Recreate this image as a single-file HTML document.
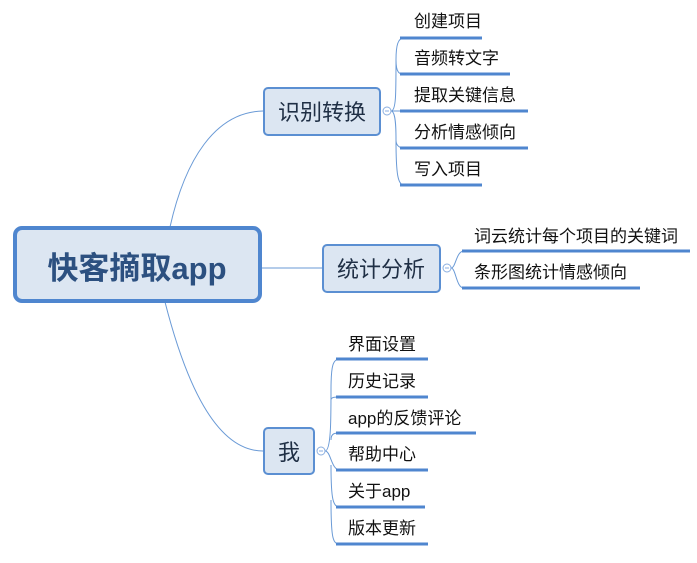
<!DOCTYPE html>
<html><head><meta charset="utf-8"><style>
body{margin:0;background:#fff;}
svg text{font-family:"Liberation Sans","Noto Sans CJK SC",sans-serif;}
</style></head><body>
<svg width="697" height="558" xmlns="http://www.w3.org/2000/svg">
<g fill="none" stroke="#6a9ad6" stroke-width="1">
<path d="M170 227 C185 160 215 112 263 111"/>
<path d="M262 268 L323 268"/>
<path d="M165 302 C185 380 215 451 263 451"/>
<path d="M391 111 C396 111 396 95 396 60 C396 45 398 38 404 38"/>
<path d="M396 60 C396 74 400 74 404 74"/>
<path d="M391 111 L404 111"/>
<path d="M391 111 C396 111 396 130 396 140 C396 146 400 148 404 148"/>
<path d="M396 140 C396 175 398 185 404 185"/>
<path d="M451 268 C456 268 456 251 464 251"/>
<path d="M451 268 C456 268 456 288 464 288"/>
<path d="M325 451 C331 451 331 420 331 390 C331 365 333 359 340 359"/>
<path d="M331 400 C331 397 335 397 340 397"/>
<path d="M331 440 C331 433 335 433 340 433"/>
<path d="M325 451 C331 451 331 470 340 470"/>
<path d="M331 465 C331 500 333 507 340 507"/>
<path d="M331 500 C331 540 333 544 340 544"/>
</g>
<g stroke="#4f86cf" stroke-width="3">
<line x1="400" y1="38" x2="482" y2="38"/>
<line x1="400" y1="74" x2="510" y2="74"/>
<line x1="400" y1="111" x2="528" y2="111"/>
<line x1="400" y1="148" x2="528" y2="148"/>
<line x1="400" y1="185" x2="482" y2="185"/>
<line x1="462" y1="251" x2="690" y2="251"/>
<line x1="462" y1="288" x2="640" y2="288"/>
<line x1="336" y1="359" x2="428" y2="359"/>
<line x1="336" y1="397" x2="428" y2="397"/>
<line x1="336" y1="433" x2="476" y2="433"/>
<line x1="336" y1="470" x2="428" y2="470"/>
<line x1="336" y1="507" x2="425" y2="507"/>
<line x1="336" y1="544" x2="428" y2="544"/>
</g>
<rect x="15" y="228" width="245" height="73" rx="7" fill="#dce6f2" stroke="#4f86cf" stroke-width="4"/>
<text x="137" y="279" text-anchor="middle" font-size="31" font-weight="bold" fill="#2c5080">快客摘取app</text>
<rect x="264" y="88" width="116" height="47" rx="4" fill="#dce6f2" stroke="#5b8fd2" stroke-width="2"/>
<text x="322" y="120" text-anchor="middle" font-size="22" fill="#1f2f45">识别转换</text>
<rect x="323" y="245" width="117" height="47" rx="4" fill="#dce6f2" stroke="#5b8fd2" stroke-width="2"/>
<text x="381" y="277" text-anchor="middle" font-size="22" fill="#1f2f45">统计分析</text>
<rect x="264" y="428" width="50" height="46" rx="4" fill="#dce6f2" stroke="#5b8fd2" stroke-width="2"/>
<text x="289" y="460" text-anchor="middle" font-size="22" fill="#1f2f45">我</text>
<g fill="#fff" stroke="#8aaee0" stroke-width="1">
<circle cx="387" cy="111" r="4"/><circle cx="447" cy="268" r="4"/><circle cx="321" cy="451" r="4"/>
</g>
<g stroke="#8aaee0" stroke-width="1">
<line x1="385" y1="111" x2="389" y2="111"/><line x1="445" y1="268" x2="449" y2="268"/><line x1="319" y1="451" x2="323" y2="451"/>
</g>
<g font-size="17" fill="#111">
<text x="414" y="27">创建项目</text>
<text x="414" y="64">音频转文字</text>
<text x="414" y="101">提取关键信息</text>
<text x="414" y="138">分析情感倾向</text>
<text x="414" y="175">写入项目</text>
<text x="474" y="242">词云统计每个项目的关键词</text>
<text x="474" y="278">条形图统计情感倾向</text>
<text x="348" y="350">界面设置</text>
<text x="348" y="387">历史记录</text>
<text x="348" y="424">app的反馈评论</text>
<text x="348" y="460">帮助中心</text>
<text x="348" y="497">关于app</text>
<text x="348" y="534">版本更新</text>
</g>
</svg>
</body></html>
